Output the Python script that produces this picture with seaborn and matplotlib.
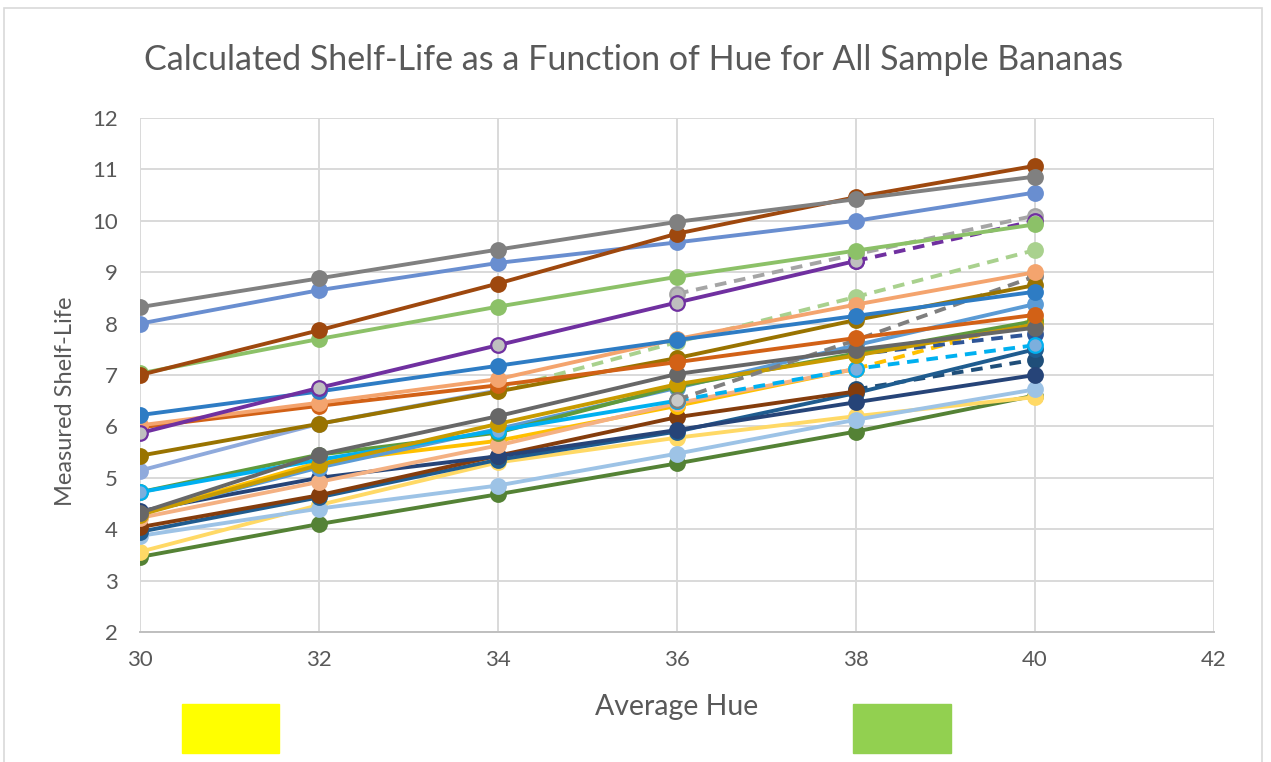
import numpy as np
import pandas as pd
import matplotlib
matplotlib.use("Agg")
import matplotlib.pyplot as plt
from matplotlib.patches import Rectangle
import seaborn as sns

nan = np.nan
hue = [30, 32, 34, 36, 38, 40]
x_ticks = [30, 32, 34, 36, 38, 40, 42]
y_ticks = [2, 3, 4, 5, 6, 7, 8, 9, 10, 11, 12]

title = "Calculated Shelf-Life as a Function of Hue for All Sample Bananas"
x_label = "Average Hue"
y_label = "Measured Shelf-Life"

# series values at hue 30..40
s_gray        = [8.32, 8.88, 9.44, 9.98, 10.42, 10.86]
s_brown       = [7.00, 7.87, 8.78, 9.75, 10.46, 11.07]
s_cornflower  = [8.00, 8.65, 9.18, 9.58, 10.00, 10.55]
s_lightgreen  = [7.03, 7.70, 8.33, 8.91, 9.42, 9.93]
s_purple      = [5.87, 6.75, 7.58, 8.41, 9.22, 10.00]
s_graydash    = [nan, nan, nan, 8.58, 9.35, 10.10]
s_blue        = [6.22, 6.68, 7.18, 7.68, 8.15, 8.62]
s_lightorange = [6.02, 6.46, 6.92, 7.70, 8.37, 9.00]
s_orange      = [5.98, 6.40, 6.80, 7.25, 7.72, 8.17]
s_darkgold    = [5.43, 6.05, 6.68, 7.33, 8.07, 8.75]
s_lavender    = [5.14, 6.05, 6.70, nan, nan, nan]
s_palegreen   = [nan, nan, 6.70, 7.64, 8.52, 9.43]
s_darkgray    = [4.32, 5.45, 6.20, 7.02, 7.49, 7.92]
s_silverdash  = [nan, nan, nan, 6.52, 7.68, 8.92]
s_gold        = [4.28, 5.25, 6.05, 6.82, 7.38, 7.98]
s_cyan        = [4.72, 5.35, 5.92, 6.50, 7.12, 7.58]
s_green       = [4.72, 5.45, 5.88, 6.78, 7.42, 8.05]
s_midblue     = [4.30, 5.20, 5.95, 6.75, 7.58, 8.38]
s_peach       = [4.22, 4.92, 5.63, 6.45, 7.12, nan]
s_amber       = [4.30, 5.30, 5.72, 6.40, 7.12, 8.07]
s_navy        = [4.35, 5.00, 5.42, 5.93, 6.47, 7.00]
s_darkbrown   = [4.04, 4.66, 5.43, 6.18, 6.68, nan]
s_darkblue    = [3.95, 4.62, 5.35, 5.90, 6.65, 7.50]
s_royaldash   = [nan, nan, nan, nan, 7.40, 7.80]
s_steeldash   = [nan, nan, nan, nan, 6.72, 7.30]
s_skyblue     = [3.87, 4.40, 4.85, 5.47, 6.13, 6.72]
s_yellow      = [3.56, 4.47, 5.30, 5.78, 6.20, 6.57]
s_forest      = [3.46, 4.10, 4.68, 5.28, 5.90, 6.60]

# (values, line colour, marker face colour, index where dashes start)
series = [
    (s_forest,      "#548235", "#548235", None),
    (s_yellow,      "#ffd966", "#ffd966", None),
    (s_skyblue,     "#9dc3e6", "#9dc3e6", None),
    (s_steeldash,   "#1f4e79", "#1f4e79", 4),
    (s_darkblue,    "#1f5c8f", "#1f5c8f", None),
    (s_darkbrown,   "#843c0c", "#843c0c", None),
    (s_navy,        "#264478", "#264478", None),
    (s_amber,       "#ffc000", "#ffc000", 4),
    (s_peach,       "#f4b183", "#f4b183", None),
    (s_royaldash,   "#2f5597", "#2f5597", 4),
    (s_midblue,     "#5b9bd5", "#5b9bd5", None),
    (s_green,       "#5f9a3c", "#43682b", None),
    (s_cyan,        "#00b0f0", "#7cafdd", 3),
    (s_gold,        "#c89b00", "#c89b00", None),
    (s_silverdash,  "#7f7f7f", "#c9c9c9", 3),
    (s_darkgray,    "#676767", "#676767", None),
    (s_palegreen,   "#a9d18e", "#a9d18e", 2),
    (s_lavender,    "#8faadc", "#8faadc", None),
    (s_darkgold,    "#997300", "#997300", None),
    (s_orange,      "#d26116", "#d26116", None),
    (s_lightorange, "#f4a46e", "#f4a46e", None),
    (s_blue,        "#2e7cc4", "#2e7cc4", None),
    (s_graydash,    "#a5a5a5", "#b7b7b7", 3),
    (s_purple,      "#7030a0", "#bfbfbf", 4),
    (s_lightgreen,  "#8cc168", "#8cc168", None),
    (s_cornflower,  "#698ed0", "#698ed0", None),
    (s_brown,       "#9e480e", "#9e480e", None),
    (s_gray,        "#808080", "#808080", None),
]

sns.set_theme(style="white")
plt.rcParams["font.family"] = ["Lato", "DejaVu Sans"]

fig = plt.figure(figsize=(12.71, 7.62), dpi=100)
ax = fig.add_axes([140 / 1271, 1 - 632 / 762, (1214 - 140) / 1271, (632 - 118) / 762])

lw = 2.8
ms = 10.5
for i, (vals, col, face, dash_from) in enumerate(series):
    df = pd.DataFrame({"hue": hue, "life": vals})
    if dash_from is None:
        solid = df.dropna()
        dashed = None
    else:
        solid = df.iloc[:dash_from + 1].dropna()
        dashed = df.iloc[dash_from:].dropna()
    z = 3 + i * 0.1
    if len(solid) > 1:
        sns.lineplot(data=solid, x="hue", y="life", ax=ax, color=col, lw=lw,
                     marker="o", markersize=ms, markerfacecolor=face,
                     markeredgecolor=col, markeredgewidth=1.6, zorder=z,
                     estimator=None, sort=False)
    elif len(solid) == 1 and dashed is None:
        ax.plot(solid["hue"], solid["life"], "o", color=col, ms=ms, zorder=z)
    if dashed is not None and len(dashed) > 0:
        sns.lineplot(data=dashed, x="hue", y="life", ax=ax, color=col, lw=lw,
                     marker="o", markersize=ms, markerfacecolor=face,
                     markeredgecolor=col, markeredgewidth=1.6, zorder=z,
                     estimator=None, sort=False, linestyle=(0, (3.0, 2.0)))

ax.set_xlim(30, 42)
ax.set_ylim(2, 12)
ax.set_xticks(x_ticks)
ax.set_yticks(y_ticks)
ax.grid(True, color="#d9d9d9", lw=1.4, zorder=0)
ax.set_axisbelow(True)
for s in ["top", "right", "left"]:
    ax.spines[s].set_visible(False)
ax.spines["bottom"].set_color("#bfbfbf")
ax.spines["bottom"].set_linewidth(1.4)
ax.tick_params(axis="both", length=0, labelsize=16, labelcolor="#595959")
ax.tick_params(axis="x", pad=13)
ax.tick_params(axis="y", pad=16)

ax.set_xlabel(x_label, fontsize=20.5, color="#595959", va="center", ha="center")
ax.xaxis.set_label_coords(0.5, (632 - 707) / 514)
ax.set_ylabel(y_label, fontsize=17, color="#595959", va="center", ha="center")
ax.yaxis.set_label_coords((65 - 140) / 1074, (632 - 401) / 514)
fig.text(0.5 * (145 + 1122) / 1271, 1 - 60 / 762, title, ha="center", va="center",
         fontsize=24.5, color="#595959")

fig.patches.append(Rectangle((182 / 1271, 1 - 753 / 762), 97 / 1271, 49 / 762,
                             transform=fig.transFigure, color="#ffff00", zorder=5))
fig.patches.append(Rectangle((853 / 1271, 1 - 753 / 762), 98 / 1271, 49 / 762,
                             transform=fig.transFigure, color="#92d050", zorder=5))
fig.patches.append(Rectangle((4 / 1271, -0.02), 1258 / 1271, 1.02 - 8 / 762,
                             transform=fig.transFigure, fill=False,
                             edgecolor="#d9d9d9", lw=1.2, zorder=1))

fig.savefig("out.png", dpi=100)
